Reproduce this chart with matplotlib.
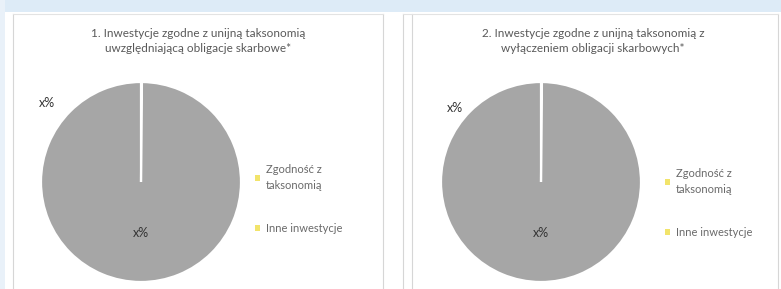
import matplotlib
matplotlib.use("Agg")
import matplotlib.pyplot as plt
from matplotlib.patches import Rectangle, Patch
from matplotlib.lines import Line2D

plt.rcParams['font.family'] = ['Lato', 'DejaVu Sans']

# dane
titles = ['1. Inwestycje zgodne z unijną taksonomią\nuwzględniającą obligacje skarbowe*',
          '2. Inwestycje zgodne z unijną taksonomią z\nwyłączeniem obligacji skarbowych*']
categories = ['Zgodność z\ntaksonomią', 'Inne inwestycje']
values_1 = [0.15, 99.85]
values_2 = [0.15, 99.85]
value_labels = ['x%', 'x%']

W, H = 781, 289
fig = plt.figure(figsize=(W / 100, H / 100), dpi=100)

def px(x, y):
    return x / W, 1 - y / H

# tlo: niebieski pasek u gory i po lewej
fig.patches.append(Rectangle((0, 1 - 12 / H), 1, 12 / H, transform=fig.transFigure,
                             facecolor='#DDEBF7', edgecolor='none', zorder=0))
fig.patches.append(Rectangle((0, 0), 5 / W, 1, transform=fig.transFigure,
                             facecolor='#E9F1F9', edgecolor='none', zorder=0))
# ramki paneli
for xl in [13, 383, 403, 412, 778]:
    fig.lines.append(Line2D([xl / W, xl / W], [0, 1 - 14 / H], transform=fig.transFigure,
                            color='#D6D6D6', lw=0.8))
for x0, x1 in [(13, 383), (403, 778)]:
    fig.lines.append(Line2D([x0 / W, x1 / W], [1 - 14 / H, 1 - 14 / H], transform=fig.transFigure,
                            color='#E3E3E3', lw=0.8))

panels = [
    dict(vals=values_1, cx=141, title_x=198, lab_top=(-0.94, 0.79), leg_x=255, leg_y=164),
    dict(vals=values_2, cx=541, title_x=593, lab_top=(-0.86, 0.74), leg_x=665, leg_y=168),
]

for i, p in enumerate(panels):
    fig.text(*px(p['title_x'], 41), titles[i], ha='center', va='center', fontsize=8.5,
             color='#595959', linespacing=1.5)
    l, b = px(p['cx'] - 100, 282)
    ax = fig.add_axes([l, b, 200 / W, 200 / H])
    wedges, _ = ax.pie(p['vals'], colors=['#A6A6A6', '#A6A6A6'], startangle=90,
                       counterclock=False, radius=1,
                       wedgeprops=dict(edgecolor='white', linewidth=1.6))
    ax.set_xlim(-1.0, 1.0)
    ax.set_ylim(-1.0, 1.0)
    ax.set_aspect('equal')
    ax.axis('off')
    ax.text(p['lab_top'][0], p['lab_top'][1], value_labels[0], ha='center', va='center',
            fontsize=9, color='#333333')
    ax.text(0, -0.51, value_labels[1], ha='center', va='center', fontsize=9, color='#333333')

    handles = [Patch(facecolor='#F2E46A', edgecolor='none') for _ in categories]
    leg = fig.legend(handles, categories, loc='upper left',
                     bbox_to_anchor=px(p['leg_x'], p['leg_y']), frameon=False,
                     fontsize=8, labelcolor='#6A6A6A', handlelength=0.45, handleheight=0.45,
                     handletextpad=0.55, labelspacing=2.9, borderpad=0, borderaxespad=0)
    for t in leg.get_texts():
        t.set_linespacing(1.55)

fig.savefig('out.png', dpi=100, facecolor='white')
